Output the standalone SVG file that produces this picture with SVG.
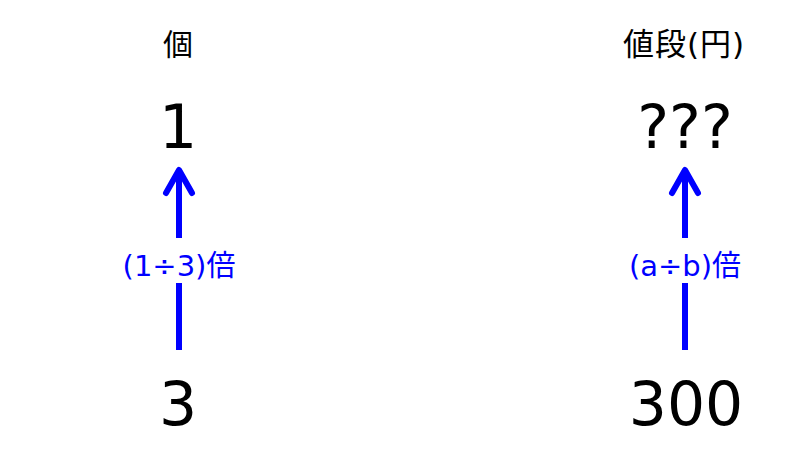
<svg xmlns="http://www.w3.org/2000/svg" width="800" height="450" viewBox="0 0 800 450">
<style>
.t{font-family:"DejaVu Sans","Noto Sans CJK JP",sans-serif;fill:#000;text-anchor:middle}
.h{font-size:30px}
.w{font-size:31px;letter-spacing:1px}
.n{font-size:60px}
.l{font-family:"DejaVu Sans","Noto Sans CJK JP",sans-serif;font-size:29px;fill:#0000ff;text-anchor:middle}
.c{stroke:#0000ff;stroke-width:6;fill:none;stroke-linecap:butt}
.a{stroke:#0000ff;stroke-width:6;fill:none;stroke-linecap:round;stroke-linejoin:round}
</style>
<rect width="800" height="450" fill="#fff"/>
<g id="head-ko"><text class="t h" x="178" y="55">個</text></g>
<g id="head-nedan"><text class="t w" x="684" y="55">値段(円)</text></g>
<g id="node-1"><text class="t n" x="178" y="148">1</text></g>
<g id="node-q"><text class="t n" x="685" y="148">???</text></g>
<g id="node-3"><text class="t n" x="178" y="425">3</text></g>
<g id="node-300"><text class="t n" x="686" y="425">300</text></g>
<g id="connectors">
<line class="c" x1="179" y1="350" x2="179" y2="283"/>
<line class="c" x1="179" y1="238" x2="179" y2="172"/>
<polyline class="a" points="166,193 179,170 192,193"/>
<text class="l" x="179" y="276">(1÷3)倍</text>
<line class="c" x1="685" y1="350" x2="685" y2="283"/>
<line class="c" x1="685" y1="238" x2="685" y2="172"/>
<polyline class="a" points="672,193 685,170 698,193"/>
<text class="l" x="685" y="276">(a÷b)倍</text>
</g>
</svg>
